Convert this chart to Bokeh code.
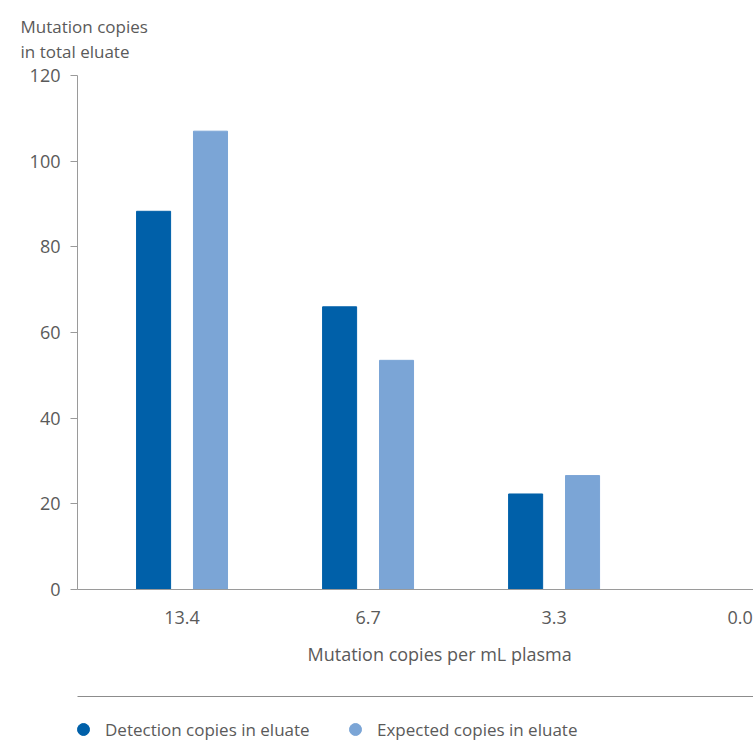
from bokeh.plotting import figure
from bokeh.models import (ColumnDataSource, Range1d, FixedTicker, LinearAxis,
                          Title, Legend)
from bokeh.transform import dodge
from bokeh.layouts import column
from bokeh.embed import file_html
from bokeh.resources import INLINE

# Mutation concentration (copies per mL plasma) and copies found in eluate
concentrations = ["13.4", "6.7", "3.3", "0.0"]
detected_copies = [88.3, 66.0, 22.3, 0.0]
expected_copies = [107.0, 53.5, 26.6, 0.0]
y_ticks = [0, 20, 40, 60, 80, 100, 120]

DARK = "#0060a9"
LIGHT = "#7ba5d6"
TEXT = "#5a5a5a"
AXIS = "#9a9a9a"
FONT = "Open Sans"

src = ColumnDataSource(dict(
    x=list(range(len(concentrations))),
    detected=detected_copies,
    expected=expected_copies,
))

p = figure(width=753, height=680, output_backend="svg", toolbar_location=None,
           x_range=Range1d(-0.562, 3.072), y_range=Range1d(0, 120),
           min_border_left=77, min_border_right=0, min_border_top=75,
           min_border_bottom=91)
p.outline_line_color = None
p.grid.grid_line_color = None
p.background_fill_color = "white"
p.border_fill_color = "white"

p.vbar(x=dodge("x", -0.153, range=p.x_range), top="detected", width=0.183,
       source=src, color=DARK)
p.vbar(x=dodge("x", 0.153, range=p.x_range), top="expected", width=0.183,
       source=src, color=LIGHT)

# y axis
ya = p.yaxis[0]
ya.ticker = FixedTicker(ticks=y_ticks)
ya.axis_line_color = AXIS
ya.major_tick_line_color = AXIS
ya.major_tick_out = 7
ya.major_tick_in = 0
ya.minor_tick_line_color = None
ya.major_label_standoff = 10
ya.major_label_text_font = FONT
ya.major_label_text_font_size = "18px"
ya.major_label_text_color = TEXT

# x axis (concentration labels)
xa = p.xaxis[0]
xa.ticker = FixedTicker(ticks=list(range(len(concentrations))))
xa.major_label_overrides = {i: c for i, c in enumerate(concentrations)}
xa.axis_line_color = AXIS
xa.major_tick_line_color = None
xa.minor_tick_line_color = None
xa.major_label_standoff = 15
xa.major_label_text_font = FONT
xa.major_label_text_font_size = "18px"
xa.major_label_text_color = TEXT

# x axis title, slightly right of the plot centre
p.add_layout(Title(text="Mutation copies per mL plasma", align="left",
                   offset=230, standoff=27, text_font=FONT,
                   text_font_size="18px", text_font_style="normal",
                   text_color=TEXT), "below")

# y axis title, placed top-left above the plot
p.add_layout(Title(text="Mutation copies\nin total eluate", align="left",
                   vertical_align="top", offset=-57, standoff=21,
                   text_font=FONT, text_font_size="17px",
                   text_font_style="normal", text_color=TEXT,
                   text_line_height=1.1), "above")

# legend strip with a separator rule on top
lg = figure(width=753, height=60, output_backend="svg", toolbar_location=None,
            x_range=Range1d(0, 1), y_range=Range1d(0, 1),
            x_axis_type=None, y_axis_type=None,
            min_border_left=77, min_border_right=0, min_border_top=16,
            min_border_bottom=0)
lg.outline_line_color = None
lg.background_fill_color = "white"
lg.border_fill_color = "white"

rule = LinearAxis(ticker=FixedTicker(ticks=[]), axis_line_color="#8c8c8c",
                  major_tick_line_color=None, minor_tick_line_color=None,
                  major_label_standoff=0)
lg.add_layout(rule, "above")

# legend swatches: the series' points lie outside this strip's ranges,
# so only their legend markers show
r1 = lg.scatter("x", "detected", source=src, marker="circle", color=DARK)
r2 = lg.scatter("x", "expected", source=src, marker="circle", color=LIGHT)
legend = Legend(items=[("Detection copies in eluate", [r1]),
                       ("Expected copies in eluate", [r2])],
                location=(-9, -4), orientation="horizontal",
                glyph_width=30, glyph_height=30, label_standoff=7,
                label_width=235, spacing=0, margin=0, padding=0,
                border_line_color=None, background_fill_alpha=0,
                label_text_font=FONT, label_text_font_size="17px",
                label_text_color=TEXT)
lg.add_layout(legend, "center")

layout = column(p, lg, spacing=0)
open("out.html", "w").write(file_html(layout, INLINE))
